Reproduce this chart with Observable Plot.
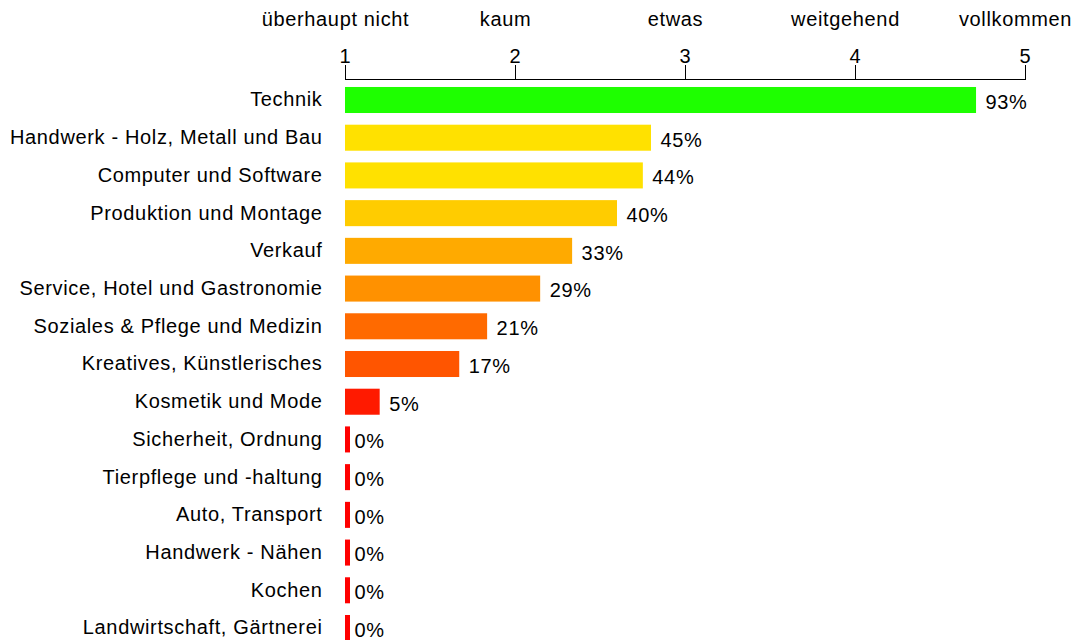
<!DOCTYPE html>
<html><head><meta charset="utf-8">
<script src="https://cdn.jsdelivr.net/npm/d3@7"></script>
<script src="https://cdn.jsdelivr.net/npm/@observablehq/plot@0.6"></script>
<style>body{margin:0;background:#fff;} svg text{letter-spacing:0.65px;}</style>
</head><body><div id="chart"></div>
<script>
const categories = [
  "Technik",
  "Handwerk - Holz, Metall und Bau",
  "Computer und Software",
  "Produktion und Montage",
  "Verkauf",
  "Service, Hotel und Gastronomie",
  "Soziales & Pflege und Medizin",
  "Kreatives, Künstlerisches",
  "Kosmetik und Mode",
  "Sicherheit, Ordnung",
  "Tierpflege und -haltung",
  "Auto, Transport",
  "Handwerk - Nähen",
  "Kochen",
  "Landwirtschaft, Gärtnerei"
];
const percents = [92.8, 45, 43.8, 40, 33.4, 28.7, 20.9, 16.8, 5.1, 0, 0, 0, 0, 0, 0];
const colors = ["#1eff00", "#ffe100", "#ffe100", "#ffcc00", "#ffaa00", "#ff9100", "#ff6a00", "#ff5500", "#ff1a00",
  "#ff0000", "#ff0000", "#ff0000", "#ff0000", "#ff0000", "#ff0000"];
const tickValues = [1, 2, 3, 4, 5];
const tickNames = ["überhaupt nicht", "kaum", "etwas", "weitgehend", "vollkommen"];

const data = categories.map((c, i) => ({name: c, pct: percents[i], color: colors[i], score: 1 + 4 * percents[i] / 100}));

const chart = Plot.plot({
  width: 1074,
  height: 640,
  marginTop: 79,
  marginLeft: 345,
  marginRight: 49,
  marginBottom: 0,
  style: {fontFamily: "'Liberation Sans', Arial, sans-serif", fontSize: "20px", color: "#000", background: "#fff"},
  x: {domain: [1, 5]},
  y: {domain: categories, range: [81.14, 646.86], paddingInner: 0.31, paddingOuter: 0.155, round: false},
  color: {type: "identity"},
  marks: [
    Plot.barX(data.filter(d => d.pct > 0), {x1: 1, x2: "score", y: "name", fill: "color"}),
    Plot.barX(data.filter(d => d.pct === 0), {x1: 1, x2: "score", y: "name", fill: "color", insetRight: -5}),
    Plot.text(data, {x: "score", y: "name", text: d => Math.round(d.pct) + "%", dx: 9, dy: 2, textAnchor: "start", fill: "#000", fontSize: 20}),
    Plot.axisY({tickSize: 0, tickPadding: 23, fontSize: 20, label: null, dy: -0.5}),
    Plot.axisX({anchor: "top", ticks: tickValues, tickSize: 15, tickPadding: 2, tickFormat: d => String(d), label: null, fontSize: 20}),
    Plot.frame({anchor: "top"}),
    Plot.text(tickValues, {x: d => d, text: (d, i) => tickNames[i], frameAnchor: "top", lineAnchor: "bottom", dy: -54, dx: -10, fontSize: 20, fill: "#000"})
  ]
});
document.getElementById("chart").appendChild(chart);
</script>
</body></html>
